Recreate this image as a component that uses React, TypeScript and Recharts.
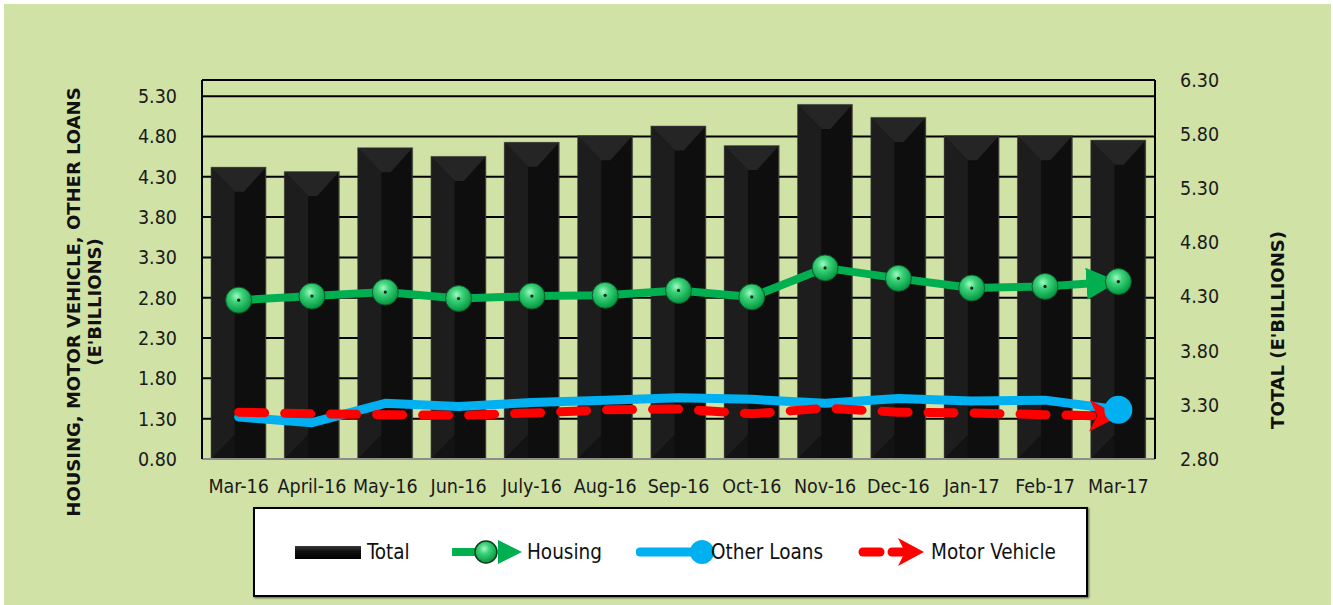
import React from 'react';
import { ComposedChart, Bar, Line, XAxis, YAxis, CartesianGrid, ReferenceLine, Label } from 'recharts';

const months = [
  'Mar-16', 'April-16', 'May-16', 'Jun-16', 'July-16', 'Aug-16', 'Sep-16',
  'Oct-16', 'Nov-16', 'Dec-16', 'Jan-17', 'Feb-17', 'Mar-17',
];
const totalLoans = [5.49, 5.45, 5.67, 5.59, 5.72, 5.78, 5.87, 5.69, 6.07, 5.95, 5.78, 5.78, 5.74];
const housing = [2.77, 2.82, 2.87, 2.79, 2.82, 2.83, 2.89, 2.81, 3.17, 3.04, 2.92, 2.94, 3.0];
const otherLoans = [1.32, 1.25, 1.49, 1.45, 1.5, 1.53, 1.56, 1.54, 1.49, 1.55, 1.52, 1.53, 1.41];
const motorVehicle = [1.38, 1.36, 1.35, 1.34, 1.37, 1.41, 1.42, 1.36, 1.43, 1.38, 1.37, 1.35, 1.33];

const leftTicks = [0.8, 1.3, 1.8, 2.3, 2.8, 3.3, 3.8, 4.3, 4.8, 5.3];
const rightTicks = [2.8, 3.3, 3.8, 4.3, 4.8, 5.3, 5.8, 6.3];
const seriesNames = ['Total', 'Housing', 'Other Loans', 'Motor Vehicle'];

const data = months.map((month, i) => ({
  month,
  total: totalLoans[i],
  housing: housing[i],
  other: otherLoans[i],
  motor: motorVehicle[i],
}));

const FONT = '"DejaVu Sans Condensed", "DejaVu Sans", Tahoma, sans-serif';
const TITLE_FONT = '"DejaVu Sans", Tahoma, sans-serif';
const BG = '#d1e2a7';
const GREEN = '#00b050';
const BLUE = '#00b0f0';
const RED = '#ff0000';
const last = months.length - 1;
const tickStyle = { fontFamily: FONT, fontSize: 19.5, fill: '#1a1a1a' };

const BevelBar = (props: any) => {
  const { x, y, width: w, height: h } = props;
  if (!h || h <= 0) return <g />;
  const b = 24;
  const m = x + w * 0.43;
  return (
    <g>
      <rect x={x - 1} y={y - 1} width={w + 2} height={h + 2} fill="#000" opacity={0.35} />
      <rect x={x} y={y} width={w} height={h} fill="#0e0e0e" stroke="#3a3a3a" strokeWidth={1} />
      <polygon points={`${x},${y} ${m},${y + b} ${m},${y + h - b} ${x},${y + h}`} fill="#1d1d1d" />
      <polygon points={`${x},${y} ${x + w},${y} ${x + w * 0.6},${y + b} ${m},${y + b}`} fill="#252525" />
      <polygon points={`${x},${y + h} ${m},${y + h - b} ${m},${y + h}`} fill="#131313" />
    </g>
  );
};

const HousingDot = (props: any) => {
  const { cx, cy, index } = props;
  return (
    <g key={`hd-${index}`}>
      <circle cx={cx} cy={cy} r={13} fill="url(#greenBall)" stroke="#0b5a2a" strokeWidth={1} />
      <circle cx={cx} cy={cy} r={1.6} fill="#0a2a12" />
    </g>
  );
};

const OtherDot = (props: any) => {
  const { cx, cy, index } = props;
  if (index !== last) return <g key={`od-${index}`} />;
  return <circle key={`od-${index}`} cx={cx} cy={cy} r={14} fill={BLUE} />;
};

const titleStyle = { fontFamily: TITLE_FONT, fontSize: 18, fontWeight: 700, fill: '#111' };

const LeftTitle = (props: any) => {
  const { viewBox } = props;
  const cy = viewBox.y + 222;
  return (
    <g>
      <text x={73} y={cy} transform={`rotate(-90 73 ${cy})`} textAnchor="middle" dominantBaseline="central" style={titleStyle}>
        HOUSING, MOTOR VEHICLE, OTHER LOANS
      </text>
      <text x={94} y={cy} transform={`rotate(-90 94 ${cy})`} textAnchor="middle" dominantBaseline="central" style={titleStyle}>
        (E'BILLIONS)
      </text>
    </g>
  );
};

const RightTitle = (props: any) => {
  const { viewBox } = props;
  const cx = viewBox.x + 122;
  const cy = viewBox.y + 250;
  return (
    <text x={cx} y={cy} transform={`rotate(-90 ${cx} ${cy})`} textAnchor="middle" dominantBaseline="central" style={titleStyle}>
      TOTAL (E'BILLIONS)
    </text>
  );
};

const LegendSwatch = ({ name }: { name: string }) => {
  if (name === 'Total') {
    return (
      <svg width={66} height={16}>
        <defs>
          <linearGradient id="legTotal" x1="0" y1="0" x2="0" y2="1">
            <stop offset="0" stopColor="#3a3a3a" />
            <stop offset="0.4" stopColor="#111" />
            <stop offset="1" stopColor="#000" />
          </linearGradient>
        </defs>
        <rect x={0} y={2} width={66} height={13} fill="url(#legTotal)" />
      </svg>
    );
  }
  if (name === 'Housing') {
    return (
      <svg width={72} height={30}>
        <line x1={2} y1={15} x2={40} y2={15} stroke={GREEN} strokeWidth={8} strokeLinecap="round" />
        <polygon points="46,3 70,15 46,27" fill={GREEN} />
        <circle cx={34} cy={15} r={11} fill="url(#greenBall)" stroke="#0b3a1a" strokeWidth={1.5} />
      </svg>
    );
  }
  if (name === 'Other Loans') {
    return (
      <svg width={80} height={30}>
        <line x1={4} y1={15} x2={66} y2={15} stroke={BLUE} strokeWidth={9} strokeLinecap="round" />
        <circle cx={66} cy={15} r={12} fill={BLUE} />
      </svg>
    );
  }
  return (
    <svg width={70} height={30}>
      <line x1={5} y1={15} x2={22} y2={15} stroke={RED} strokeWidth={9} strokeLinecap="round" />
      <line x1={34} y1={15} x2={48} y2={15} stroke={RED} strokeWidth={9} strokeLinecap="round" />
      <polygon points="40,1 66,15 40,29 47,15" fill={RED} />
    </svg>
  );
};

const legendLeft = [40, 197, 381, 603];
const legendTextLeft = [112, 272, 456, 676];

export default function App() {
  return (
    <div style={{ position: 'relative', width: 1333, height: 605, background: '#fff', overflow: 'hidden' }}>
      <style>{'body{margin:0}'}</style>
      <svg width={0} height={0} style={{ position: 'absolute' }}>
        <defs>
          <radialGradient id="greenBall" cx="42%" cy="35%" r="65%">
            <stop offset="0" stopColor="#a6f7c4" />
            <stop offset="0.35" stopColor="#3fd47c" />
            <stop offset="1" stopColor="#00973f" />
          </radialGradient>
          <marker id="arrowGreen" markerUnits="userSpaceOnUse" markerWidth={32} markerHeight={32}
            viewBox="0 0 32 32" refX={32} refY={16} orient="auto">
            <path d="M0,0 L32,16 L0,32 z" fill={GREEN} />
          </marker>
          <marker id="arrowRed" markerUnits="userSpaceOnUse" markerWidth={32} markerHeight={32}
            viewBox="0 0 32 32" refX={31} refY={16} orient="auto">
            <path d="M2,0 L32,16 L2,32 L10,16 z" fill={RED} />
          </marker>
        </defs>
      </svg>
      <div style={{ position: 'absolute', left: 4, top: 4, width: 1327, height: 601, background: BG }} />
      <div style={{ position: 'absolute', left: 0, top: 0 }}>
        <ComposedChart width={1333} height={605} data={data}
          margin={{ top: 80, right: 0, bottom: 106, left: 0 }} barCategoryGap="13%">
          <CartesianGrid yAxisId="left" vertical={false} stroke="#000" strokeWidth={2} />
          <XAxis dataKey="month" height={40} tickSize={0} tickMargin={20} interval={0}
            axisLine={{ stroke: '#8c8c8c', strokeWidth: 2 }} tickLine={false} tick={tickStyle} />
          <YAxis yAxisId="left" width={202} domain={[0.8, 5.5]} ticks={leftTicks} allowDataOverflow
            tickSize={0} tickMargin={25} tickLine={false} axisLine={{ stroke: '#000', strokeWidth: 2 }}
            tickFormatter={(v: number) => v.toFixed(2)} tick={tickStyle}>
            <Label content={<LeftTitle />} />
          </YAxis>
          <YAxis yAxisId="right" orientation="right" width={178} domain={[2.8, 6.3]} ticks={rightTicks}
            allowDataOverflow tickSize={0} tickMargin={25} tickLine={false}
            axisLine={{ stroke: '#000', strokeWidth: 2 }}
            tickFormatter={(v: number) => v.toFixed(2)} tick={tickStyle}>
            <Label content={<RightTitle />} />
          </YAxis>
          <ReferenceLine yAxisId="left" y={5.5} stroke="#000" strokeWidth={2} />
          <Bar yAxisId="right" dataKey="total" name="Total" shape={<BevelBar />} isAnimationActive={false} />
          <Line yAxisId="left" dataKey="other" name="Other Loans" type="linear" stroke={BLUE} strokeWidth={9}
            strokeLinecap="round" strokeLinejoin="round" dot={OtherDot} activeDot={false} isAnimationActive={false} />
          <Line yAxisId="left" dataKey="motor" name="Motor Vehicle" type="linear" stroke={RED} strokeWidth={9}
            strokeDasharray="26 20" strokeLinecap="round" markerEnd="url(#arrowRed)"
            dot={false} activeDot={false} isAnimationActive={false} />
          <Line yAxisId="left" dataKey="housing" name="Housing" type="linear" stroke={GREEN} strokeWidth={8}
            strokeLinejoin="round" markerEnd="url(#arrowGreen)"
            dot={HousingDot} activeDot={false} isAnimationActive={false} />
        </ComposedChart>
      </div>
      <div style={{
        position: 'absolute', left: 253, top: 507, width: 831, height: 86, background: '#fff',
        border: '2px solid #000', boxShadow: '1px 1px 2px rgba(0,0,0,0.6)',
      }}>
        {seriesNames.map((name, i) => (
          <React.Fragment key={name}>
            <div style={{ position: 'absolute', left: legendLeft[i], top: 43, transform: 'translateY(-50%)', lineHeight: 0 }}>
              <LegendSwatch name={name} />
            </div>
            <div style={{
              position: 'absolute', left: legendTextLeft[i], top: 43, transform: 'translateY(-50%)',
              fontFamily: FONT, fontSize: 20.5, color: '#111', whiteSpace: 'nowrap',
            }}>
              {name}
            </div>
          </React.Fragment>
        ))}
      </div>
    </div>
  );
}
